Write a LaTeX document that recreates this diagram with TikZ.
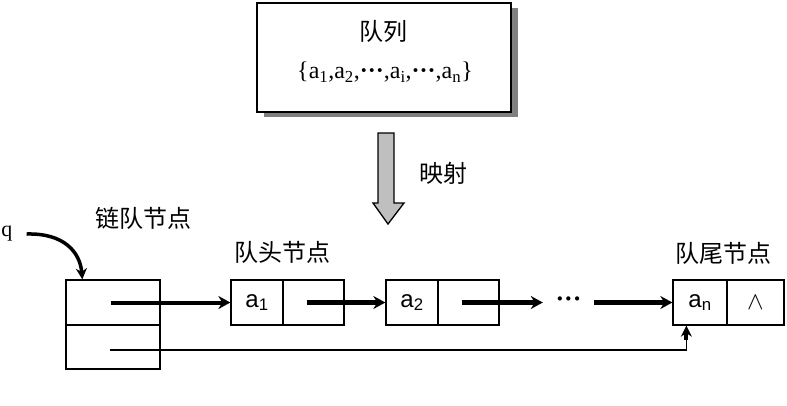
\documentclass[tikz,border=0pt]{standalone}
\usepackage{fontspec}
\setmainfont{Liberation Serif}
\newfontfamily\cjk{Noto Sans CJK SC}
\newfontfamily\cellfont{Liberation Sans}
\usetikzlibrary{positioning,calc,arrows.meta,shadows}

\begin{document}
\begin{tikzpicture}[
                x=1pt, y=-1pt,
                cell/.style={
                    rectangle,
                    draw=black,
                    line width=1.3pt,
                    fill=white,
                    inner sep=0pt,
                    minimum height=45pt,
                    font=\cellfont\fontsize{24}{26}\selectfont
                },
                label/.style={font=\cjk\fontsize{24}{26}\selectfont, inner sep=0pt},
                ptr/.style={draw=black, line width=4.5pt, -{Stealth[length=12pt,width=13pt]}},
                link/.style={draw=black, line width=1.6pt}
            ]
                \useasboundingbox (0,0) rectangle (787,405);

                % top box with its shadow
                \node[rectangle, draw=black, line width=1.8pt, fill=white,
                      minimum width=254pt, minimum height=109pt,
                      drop shadow={shadow xshift=7pt, shadow yshift=-5pt, fill=gray, opacity=1}]
                      (queue) at (384, 57.5) {};
                \node[label] (title) at (383, 31) {队列};
                \node[font=\fontsize{24}{26}\selectfont, inner sep=0pt] (set) at (385, 72)
                      {\{a\textsubscript{1},a\textsubscript{2},{\bfseries ···},a\textsubscript{i},{\bfseries ···},a\textsubscript{n}\}};

                % mapping arrow
                \filldraw[fill=gray!50, draw=black, line width=1.3pt]
                      (378,133) -- (394,133) -- (394,203) -- (404,203) -- (388,224)
                      -- (373,203) -- (378,203) -- cycle;
                \node[label] (map) at (443, 173) {映射};

                % labels
                \node[font=\fontsize{22}{24}\selectfont, inner sep=0pt] (q) at (7, 234) {q};
                \node[label] (lq) at (143, 218) {链队节点};
                \node[label] (lhead) at (282, 252) {队头节点};
                \node[label] (ltail) at (723, 253) {队尾节点};

                % link queue node
                \node[cell, minimum width=94pt] (hd) at (113, 302.5) {};
                \node[cell, minimum width=94pt, minimum height=44pt] (tl) at (113, 347) {};

                % data nodes
                \node[cell, minimum width=52pt] (a1d) at (257, 302.5) {a\textsubscript{1}};
                \node[cell, minimum width=61pt] (a1n) at (313.5, 302.5) {};
                \node[cell, minimum width=52pt] (a2d) at (412, 302.5) {a\textsubscript{2}};
                \node[cell, minimum width=61pt] (a2n) at (468.5, 302.5) {};
                \node[minimum width=51pt, minimum height=10pt, inner sep=0pt] (dots) at (568.5, 302.5) {};
                \node[font=\bfseries\fontsize{26}{28}\selectfont, inner sep=0pt] (dottext) at (dots.center) {···};
                \node[cell, minimum width=54pt] (and) at (700, 302.5) {a\textsubscript{n}};
                \node[cell, minimum width=57pt, font=\fontsize{34}{36}\selectfont] (ann) at (755.5, 302.5) {$\wedge$};

                \coordinate (qout) at ([xshift=14pt]q.east);
                \coordinate (qin) at ([xshift=17pt]hd.north west);
                \coordinate (tin) at ([xshift=14pt]and.south west);

                \draw[ptr, line width=3.5pt, -{Stealth[length=11pt,width=11pt]}] (qout) .. controls (64,233) and (80,252) .. (qin);
                \draw[ptr, line width=4pt] ([xshift=-2pt]hd.center) -- (a1d.west);
                \draw[ptr] ([xshift=-7pt]a1n.center) -- (a2d.west);
                \draw[ptr] ([xshift=-7pt]a2n.center) -- (dots.west);
                \draw[ptr] (dots.east) -- (and.west);
                \draw[link] ([xshift=-3pt,yshift=-3pt]tl.center) -| (tin);
                \draw[ptr, line width=4pt, -{Stealth[length=11pt,width=11pt]}] ([yshift=-14pt]tin) -- (tin);
            \end{tikzpicture}
\end{document}
